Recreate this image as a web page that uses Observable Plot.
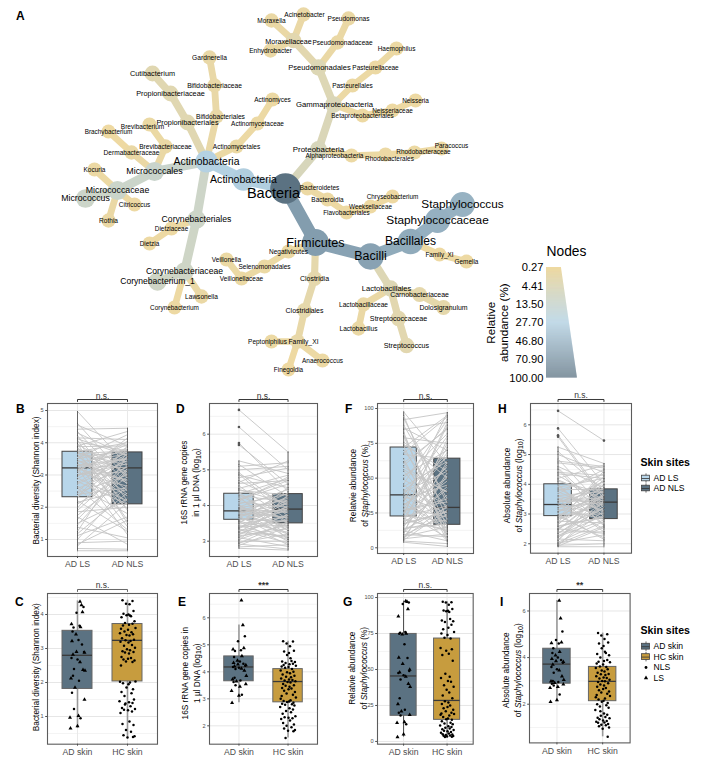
<!DOCTYPE html>
<html><head><meta charset="utf-8">
<script src="https://cdn.jsdelivr.net/npm/d3@7"></script>
<script src="https://cdn.jsdelivr.net/npm/@observablehq/plot@0.6"></script>
<style>
html,body{margin:0;padding:0;background:#fff}
#page{position:relative;width:712px;height:770px;overflow:hidden;font-family:"Liberation Sans",Arial,sans-serif}
#page svg{position:absolute;overflow:visible;background:transparent}
.letter{position:absolute;font:bold 12px "Liberation Sans",Arial,sans-serif;color:#000;line-height:12px}
</style></head><body><div id="page"></div>
<script>
// ---------- Panel A: taxonomy tree [taxon, parent, relative abundance %]
const rootTaxa = [["Bacteria",null,100]];
const actinoTaxa = [
 ["Actinobacteria|p","Bacteria",30],["Actinobacteria|c","Actinobacteria|p",28],
 ["Propionibacteriales","Actinobacteria|c",3],["Propionibacteriaceae","Propionibacteriales",3],["Cutibacterium","Propionibacteriaceae",3],
 ["Bifidobacteriales","Actinobacteria|c",1],["Bifidobacteriaceae","Bifidobacteriales",1],["Gardnerella","Bifidobacteriaceae",1],
 ["Actinomycetales","Actinobacteria|c",.7],["Actinomycetaceae","Actinomycetales",.6],["Actinomyces","Actinomycetaceae",.6],
 ["Micrococcales","Actinobacteria|c",13],["Brevibacteriaceae","Micrococcales",.8],["Brevibacterium","Brevibacteriaceae",.7],
 ["Dermabacteraceae","Micrococcales",.8],["Brachybacterium","Dermabacteraceae",.4],
 ["Micrococcaceae","Micrococcales",12],["Micrococcus","Micrococcaceae",11.5],["Kocuria","Micrococcaceae",.6],["Citricoccus","Micrococcaceae",.5],["Rothia","Micrococcaceae",.8],
 ["Corynebacteriales","Actinobacteria|c",11],["Dietziaceae","Corynebacteriales",.5],["Dietzia","Dietziaceae",.5],
 ["Corynebacteriaceae","Corynebacteriales",10.5],["Corynebacterium_1","Corynebacteriaceae",10],["Corynebacterium","Corynebacteriaceae",.5],["Lawsonella","Corynebacteriaceae",.8]
];
const proteoTaxa = [
 ["Proteobacteria","Bacteria",6],["Gammaproteobacteria","Proteobacteria",5],["Pseudomonadales","Gammaproteobacteria",4],
 ["Moraxellaceae","Pseudomonadales",2.5],["Moraxella","Moraxellaceae",.8],["Acinetobacter","Moraxellaceae",.9],["Enhydrobacter","Moraxellaceae",.8],
 ["Pseudomonadaceae","Pseudomonadales",.8],["Pseudomonas","Pseudomonadaceae",.8],
 ["Pasteurellales","Gammaproteobacteria",.6],["Pasteurellaceae","Pasteurellales",.6],["Haemophilus","Pasteurellaceae",.6],
 ["Betaproteobacteriales","Gammaproteobacteria",.5],["Neisseriaceae","Betaproteobacteriales",.5],["Neisseria","Neisseriaceae",.5],
 ["Alphaproteobacteria","Proteobacteria",.6],["Rhodobacterales","Alphaproteobacteria",.6],["Rhodobacteraceae","Rhodobacterales",.55],["Paracoccus","Rhodobacteraceae",.5]
];
const bacteroidTaxa = [
 ["Bacteroidetes","Bacteria",.6],["Bacteroidia","Bacteroidetes",.6],["Flavobacteriales","Bacteroidia",.5],["Weeksellaceae","Flavobacteriales",.4],["Chryseobacterium","Weeksellaceae",.4]
];
const firmicuteTaxa = [
 ["Firmicutes","Bacteria",62],["Bacilli","Firmicutes",58],["Bacillales","Bacilli",52],["Staphylococcaceae","Bacillales",48],["Staphylococcus","Staphylococcaceae",47],
 ["Family_XI|b","Bacillales",.4],["Gemella","Family_XI|b",.5],
 ["Lactobacillales","Bacilli",4],["Carnobacteriaceae","Lactobacillales",1.8],["Dolosigranulum","Carnobacteriaceae",1.7],
 ["Lactobacillaceae","Lactobacillales",.8],["Lactobacillus","Lactobacillaceae",.8],["Streptococcaceae","Lactobacillales",2.5],["Streptococcus","Streptococcaceae",2.5],
 ["Negativicutes","Firmicutes",.7],["Selenomonadales","Negativicutes",.7],["Veillonellaceae","Selenomonadales",.7],["Veillonella","Veillonellaceae",.7],
 ["Clostridia","Firmicutes",1.8],["Clostridiales","Clostridia",1.8],["Family_XI|c","Clostridiales",1.2],["Peptoniphilus","Family_XI|c",.6],["Anaerococcus","Family_XI|c",.6],["Finegoldia","Family_XI|c",.4]
];
// tree layout units [taxon, x, y, label x, label y]
const treeLayout = [
 ["Bacteria",285,188,273,193],["Actinobacteria|p",243,179],["Actinobacteria|c",206,161],
 ["Propionibacteriales",187,122],["Propionibacteriaceae",170,93],["Cutibacterium",152,73],
 ["Bifidobacteriales",216,116,220,116],["Bifidobacteriaceae",214,85],["Gardnerella",209,57],
 ["Actinomycetales",236,146],["Actinomycetaceae",257,123],["Actinomyces",272,99],
 ["Micrococcales",154,171],["Brevibacteriaceae",165,146],["Brevibacterium",149,124,142,126],["Dermabacteraceae",131,152],["Brachybacterium",108,131],
 ["Micrococcaceae",117,190],["Micrococcus",85,198],["Kocuria",94,169],["Citricoccus",134,204],["Rothia",108,220],
 ["Corynebacteriales",196,219],["Dietziaceae",171,228],["Dietzia",149,243],["Corynebacteriaceae",184,271],["Corynebacterium_1",157,281],["Corynebacterium",174,307],["Lawsonella",201,296],
 ["Proteobacteria",318,149],["Gammaproteobacteria",333,104,334,104],["Pseudomonadales",318,67,319,67],["Moraxellaceae",293,40,288,41],["Moraxella",271,20],["Acinetobacter",303,14,304,14],["Enhydrobacter",270,50],
 ["Pseudomonadaceae",337,42,342,42],["Pseudomonas",348,18],["Pasteurellales",352,85],["Pasteurellaceae",375,67],["Haemophilus",396,48],
 ["Betaproteobacteriales",362,115],["Neisseriaceae",392,110],["Neisseria",415,100],
 ["Alphaproteobacteria",351,155,334,155],["Rhodobacterales",385,154,389,158],["Rhodobacteraceae",414,152,423,151],["Paracoccus",441,148,451,145],
 ["Bacteroidetes",307,188,319,187],["Bacteroidia",327,199],["Flavobacteriales",346,212],["Weeksellaceae",370,206],["Chryseobacterium",392,196],
 ["Firmicutes",315,242],["Bacilli",370,256],["Bacillales",410,241],["Staphylococcaceae",437,220],["Staphylococcus",462,204],["Family_XI|b",439,254],["Gemella",466,261],
 ["Lactobacillales",390,288,386,288],["Carnobacteriaceae",419,294],["Dolosigranulum",443,307],["Lactobacillaceae",363,304],["Lactobacillus",358,328],["Streptococcaceae",398,318],["Streptococcus",406,345],
 ["Negativicutes",288,251],["Selenomonadales",264,266],["Veillonellaceae",241,278],["Veillonella",226,259],
 ["Clostridia",314,278],["Clostridiales",304,310],["Family_XI|c",297,341,303,341],["Peptoniphilus",271,341,267,341],["Anaerococcus",322,360],["Finegoldia",288,369]
];
const legendTicks = [0.27,4.41,13.5,27.7,46.8,70.9,100];
const abundanceColor = {type:"sqrt",domain:[0.27,27.7,100],range:["#efd9a0","#b5d2e3","#5b7282"]};

// ---------- Paired panels (AD LS, AD NLS)
const pairCats = ["AD LS","AD NLS"], skinCats = ["AD skin","HC skin"];
const shannonLS = [4.97,4.6,4.55,4.42,4.3,4.22,4.15,4.08,4.02,3.96,3.9,3.85,3.8,3.75,3.72,3.68,3.62,3.58,3.52,3.46,3.4,3.36,3.31,3.27,3.24,3.22,3.2,3.14,3.08,3.02,2.95,2.88,2.8,2.72,2.65,2.58,2.48,2.4,2.31,2.2,2.1,1.98,1.86,1.75,1.62,1.5,1.38,1.25,1.12,1.0,.9,.8,.72,.65,4.35,4.12,3.98,3.88,3.7,3.6,3.5,3.38,3.3,3.18,3.1,3.0,2.9,2.76,2.6,2.45,2.33,2.15,1.9,1.7,1.45,1.18,.85,3.66,3.44,2.98];
const shannonNLS = [3.3,2.9,3.9,4.45,3.6,2.2,4.1,1.9,3.75,3.0,4.35,2.5,3.4,1.6,4.0,3.3,2.1,3.7,4.25,2.8,3.65,1.4,3.22,3.95,2.35,3.5,1.15,3.85,2.65,3.1,4.15,3.72,2.09,3.45,1.8,3.25,3.8,2.6,3.55,1.25,3.05,3.68,2.0,2.95,3.2,2.25,1.05,3.6,1.7,2.7,.95,2.15,.7,.65,2.7,3.6,1.5,3.9,3.1,2.4,3.8,1.95,3.5,2.85,4.05,3.35,2.2,3.65,1.3,3.0,3.9,2.55,3.3,.85,3.15,2.45,1.6,3.75,2.75,3.55];
const rrnaLS = [6.68,6.2,5.75,5.7,5.25,5.1,5.0,4.92,4.85,4.78,4.7,4.62,4.55,4.48,4.42,4.36,4.33,4.28,4.22,4.16,4.1,4.05,4.0,3.96,3.92,3.88,3.85,3.82,3.79,3.76,3.73,3.7,3.66,3.62,3.6,3.56,3.52,3.48,3.44,3.4,3.36,3.32,3.28,3.24,3.2,3.15,3.1,3.05,3.0,2.96,2.92,2.88,2.84,2.8,5.15,4.88,4.65,4.45,4.3,4.18,4.02,3.94,3.84,3.74,3.68,3.58,3.5,3.42,3.34,3.26,3.18,3.12,3.02,2.94,4.25,4.12,3.9,3.72,3.55,3.38];
const rrnaNLS = [5.5,5.0,4.4,4.6,4.9,5.2,5.1,3.9,4.5,5.05,4.0,4.7,3.6,4.85,4.3,3.5,4.75,4.1,3.3,4.6,3.95,4.32,3.2,4.45,3.8,3.1,4.2,3.65,4.05,3.4,3.9,3.0,4.25,3.55,3.85,3.25,4.15,3.7,3.05,3.45,3.9,2.95,3.6,3.15,3.75,3.35,2.85,3.5,3.0,3.2,2.78,3.4,2.9,2.75,4.25,3.7,5.25,4.05,3.55,4.7,3.3,4.15,3.85,4.35,3.2,3.95,4.5,3.6,3.1,4.0,3.75,3.45,4.3,3.55,3.05,4.8,3.65,3.9,2.9,4.1];
const relLS = [97.5,95,92,88,85,82,79,76,73,72,70,67,64,61,58,55,52,49,46,44,42,40,39,38,37,35,33,32,30,29,28,27,26,25,24,23,22.5,21,20,18,17,15,14,13,12,11,10,9,8,7,6.5,5.5,4.8,4,93,86,80,74,68,62,56,50,45,41,36,31,27,24,21,19,16,13.5,11.5,9.5,7.5,6,83,59,34,17.5];
const relNLS = [60,20,97,35,90,8,75,50,12,95,28,64,5,85,40,18,70,30,92,62,16,55,10,80,25,45,97,14,58,22,66,33,7,48,88,19,30,72,13,42,26,60,17,29,5,38,78,24,15,52,10,27,3,1,32,70,15,55,94,10,40,82,23,65,5,50,35,90,12,75,44,20,62,8,30,54,6,86,68,26];
const absLS = [6.47,5.88,5.65,5.6,5.25,5.0,4.85,4.72,4.6,4.5,4.4,4.3,4.2,4.1,4.0,3.9,3.82,3.75,3.68,3.6,3.54,3.48,3.42,3.37,3.32,3.28,3.22,3.16,3.1,3.05,3.0,2.95,2.93,2.88,2.82,2.76,2.7,2.64,2.58,2.52,2.46,2.4,2.34,2.28,2.22,2.16,2.1,2.05,2.02,1.98,1.95,1.93,1.92,1.9,5.1,4.78,4.55,4.35,4.15,3.95,3.78,3.62,3.5,3.4,3.3,3.2,3.08,2.98,2.85,2.72,2.6,2.48,2.36,2.24,2.12,2.0,3.86,3.44,2.9,2.5];
const absNLS = [5.47,4.0,3.6,3.5,4.7,4.4,3.2,4.55,3.9,2.9,4.3,3.4,4.65,3.7,2.6,4.2,3.83,3.1,4.5,3.3,2.85,3.95,3.45,4.1,2.5,3.75,3.4,2.83,3.6,4.25,3.0,3.55,2.2,3.8,3.35,2.7,3.5,4.0,2.9,3.2,3.65,2.4,3.4,2.95,3.3,2.1,3.7,2.75,2.3,3.1,2.0,3.42,2.55,1.9,3.8,4.6,3.1,4.2,3.5,2.65,4.35,3.75,2.4,3.85,3.0,4.1,3.6,2.15,3.4,4.45,2.9,3.7,3.2,2.8,3.9,2.6,3.05,3.55,4.15,2.35];
const rrnaOutliers = [[0,6.68],[0,6.2],[0,5.75],[0,5.7]];
const absOutliers = [[0,6.47],[0,5.88],[0,5.65],[0,5.6],[1,5.47]];

// ---------- Unpaired panels (AD skin, HC skin)
const shannonAD = [4.38,4.28,4.22,4.05,4.07,3.72,3.67,3.62,3.63,3.5,3.42,3.25,3.22,3.12,2.9,2.88,2.9,2.82,2.72,2.68,2.6,2.4,2.37,2.35,2.2,2.12,2.05,1.85,1.7,1.5,1.22,1.02,.97,.95,.72,.65];
const shannonHC = [4.42,4.4,4.32,4.3,4.1,4.02,4.0,3.98,3.97,3.95,3.92,3.8,3.75,3.73,3.7,3.68,3.6,3.58,3.55,3.5,3.48,3.45,3.42,3.4,3.38,3.3,3.26,3.24,3.22,3.2,3.18,3.1,3.08,3.02,2.98,2.95,2.92,2.9,2.88,2.85,2.75,2.72,2.7,2.68,2.65,2.62,2.6,2.5,2.03,2.02,2.0,1.98,1.95,1.85,1.8,1.72,1.68,1.6,1.5,1.45,1.42,1.4,1.38,1.3,1.25,1.22,1.2,1.18,1.15,1.1,.85,.78,.75,.6,.55,.45,.42,.38,.4,1.35];
const rrnaAD = [6.65,5.73,5.32,5.13,4.88,4.83,4.8,4.77,4.58,4.55,4.42,4.38,4.33,4.3,4.28,4.25,4.22,4.2,4.18,4.15,4.12,4.1,4.05,3.85,3.78,3.72,3.68,3.65,3.62,3.55,3.5,3.45,3.3,3.15,3.12,2.85];
const rrnaHC = [5.13,5.12,5.05,4.95,4.78,4.75,4.7,4.62,4.5,4.4,4.38,4.36,4.33,4.3,4.28,4.25,4.22,4.2,4.18,4.15,4.1,4.05,4.0,3.98,3.95,3.9,3.85,3.82,3.8,3.75,3.72,3.7,3.68,3.65,3.62,3.6,3.55,3.5,3.48,3.45,3.4,3.38,3.35,3.3,3.25,3.2,3.15,3.1,3.05,3.0,2.95,2.92,2.9,2.88,2.85,2.82,2.8,2.78,2.75,2.7,2.65,2.6,2.55,2.5,2.45,2.35,2.32,2.3,2.28,2.25,2.2,2.1,2.05,2.0,1.95,1.9,1.85,1.82,1.8,1.55];
const relAD = [97.5,97,96.5,95.5,92,87,76,75.5,75,74.8,74.5,67.5,58.2,58,54,50,49,48,47.5,46,45,43,40,38,30,26,22,21,20,18.5,18,13.5,13,12,5,3];
const relHC = [97,96.8,96.5,95,92,91,90.8,90.5,90,85,84,83.5,83,81,79,78,76,75,74,72,71.5,65,64,63,61,60,56,47,45,44,42,41.5,39,38,36,34,32,30,28,27,26,25,24,23,22,21,20,19.5,19,18.5,18,17,16,15.5,15,14,13,12.5,12,11,10.5,10,9.5,9,8.5,8,7.5,7,6.5,6,5.5,5,4.8,4.5,4.2,4,3.8,3.5,3.2,3];
const absAD = [6.45,5.68,5.12,4.75,4.65,4.62,4.6,4.4,4.25,4.2,4.1,4.0,3.95,3.9,3.85,3.82,3.78,3.7,3.6,3.5,3.45,3.35,3.2,3.05,3.0,2.98,2.95,2.92,2.88,2.85,2.8,2.75,2.7,2.42,2.18,2.1];
const absHC = [5.05,5.0,4.95,4.8,4.65,4.6,4.5,4.4,4.25,4.2,4.15,4.1,4.0,3.9,3.85,3.82,3.8,3.75,3.7,3.62,3.6,3.55,3.5,3.45,3.4,3.35,3.3,3.28,3.25,3.2,3.15,3.12,3.1,3.05,3.0,2.98,2.95,2.9,2.85,2.8,2.75,2.7,2.65,2.6,2.55,2.5,2.45,2.4,2.35,2.3,2.25,2.2,2.15,2.1,2.05,2.0,1.95,1.9,1.85,1.75,1.6,1.55,1.5,1.45,1.42,1.4,1.35,1.3,1.28,1.25,1.22,1.2,1.15,1.12,1.1,1.05,1.0,.95,.6,1.7];
const jitterAD = [.05,.08,.12,-.02,.1,-.12,.04,-.08,.06,-.1,-.03,.02,-.11,.09,-.02,.14,.13,-.09,-.12,0,.05,-.07,.11,.15,-.09,-.13,.03,-.05,-.11,.14,-.07,.02,-.15,.06,0,-.14];
const jitterHC = [-.1,.1,-.03,.04,.12,-.08,.02,-.02,.05,.07,-.12,.14,-.05,.1,.03,-.09,.16,-.13,.01,-.06,.08,-.15,.11,-.02,.04,-.11,.13,-.04,.06,-.14,.02,.09,-.07,.15,-.01,.05,-.1,.12,-.05,.03,-.12,.07,.01,-.08,.14,-.03,.1,-.13,.16,-.15,.05,-.09,.02,-.02,.11,-.12,.08,-.06,.13,-.16,.03,.1,-.04,.06,-.11,.15,-.07,.01,.09,-.14,.04,-.1,.12,-.03,.07,-.08,.14,.0,.11,-.05];
const adSites = ["L","L","N","N","L","L","N","N","L","N","L","N","L","N","L","L","N","L","N","N","L","N","L","L","N","L","N","L","N","L","N","L","L","N","L","L"];

// box statistics [whisker low, q1, median, q3, whisker high]
const boxB = [[.65,2.31,3.22,3.72,4.97],[.65,2.09,3.22,3.7,4.45]];
const boxD = [[2.8,3.6,3.85,4.33,5.25],[2.75,3.5,3.9,4.32,5.5]];
const boxF = [[4,22.5,38,72,97.5],[1,16.5,29,64,97]];
const boxH = [[1.9,2.93,3.32,4.0,5.25],[1.9,2.83,3.4,3.83,4.7]];
const boxC = [[.65,1.81,2.8,3.52,4.4],[.38,2.03,3.24,3.72,4.42]];
const boxE = [[2.85,3.65,4.18,4.57,5.73],[1.55,2.87,3.64,4.1,5.13]];
const boxG = [[3,17.8,45.5,74.7,97.5],[3,15,28.5,71.5,97]];
const boxI = [[2.1,2.88,3.72,4.38,6.45],[.6,2.13,2.98,3.6,5.05]];

const lsBlue="#b8d6ea", slate="#5b7282", gold="#c79c3e";
const FONT='"Liberation Sans",Arial,sans-serif';
const page=document.getElementById("page");
function place(el,left,top){el.style.position="absolute";el.style.left=left+"px";el.style.top=top+"px";page.appendChild(el);return el;}

// ---------- Tree
const taxa=[...rootTaxa,...actinoTaxa,...proteoTaxa,...bacteroidTaxa,...firmicuteTaxa].map(([id,parent,ab])=>({id,parent,ab,name:id.split("|")[0]}));
const layoutOf=new Map(treeLayout.map(r=>[r[0],r]));
taxa.forEach(t=>{const r=layoutOf.get(t.id);t.x=r[1];t.y=r[2];t.lx=r[3]??r[1];t.ly=r[4]??r[2];});
const byId=new Map(taxa.map(t=>[t.id,t]));
const branches=taxa.filter(t=>t.parent).map(t=>({ab:t.ab,x1:byId.get(t.parent).x,y1:byId.get(t.parent).y,x2:t.x,y2:t.y}));
place(Plot.plot({width:712,height:385,margin:0,
  x:{domain:[0,712],range:[0,712],axis:null},y:{domain:[0,385],range:[0,385],axis:null},
  color:abundanceColor,r:{type:"sqrt",domain:[0.27,100],range:[6.8,15.3]},
  style:{fontFamily:FONT,background:"transparent"},
  marks:[
    Plot.link(branches.slice().sort((a,b)=>a.ab-b.ab),{x1:"x1",y1:"y1",x2:"x2",y2:"y2",stroke:"ab",strokeWidth:d=>6+.85*Math.sqrt(d.ab),strokeLinecap:"round"}),
    Plot.dot(taxa,{x:"x",y:"y",r:"ab",fill:"ab",sort:{channel:"r"}}),
    Plot.text(taxa,{x:"lx",y:"ly",text:"name",fontSize:d=>5.8+.87*Math.sqrt(d.ab),fill:"#000"})
  ]}),0,0);

// ---------- Abundance legend wedge
const rampSteps=d3.range(0,111).map(i=>i/111);
const r0=Math.sqrt(.27), r1=10;
const ramp=rampSteps.map(t=>{const a=r0+t*(r1-r0), b=r0+(t+1/111)*(r1-r0);return{v1:a*a,v2:b*b,w:a,mid:(a*a+b*b)/2};});
place(Plot.plot({width:120,height:140.5,marginLeft:66,marginRight:23,marginTop:30,marginBottom:0,
  x:{domain:[-8.36,10],axis:null},y:{type:"sqrt",domain:[.27,100],reverse:true,axis:null},color:abundanceColor,
  style:{fontFamily:FONT,background:"transparent"},
  marks:[
    Plot.rect(ramp,{x1:-8.36,x2:"w",y1:"v1",y2:"v2",fill:"mid"}),
    Plot.axisY({ticks:legendTicks,tickSize:0,tickPadding:3,fontSize:11.2,color:"#000",tickFormat:d=>d.toFixed(2),anchor:"left"}),
    Plot.text(["Nodes"],{frameAnchor:"top-left",dy:-15.5,fontSize:13.8,textAnchor:"start",fill:"#000",lineAnchor:"middle"}),
    Plot.text(["Relative\nabundance (%)"],{frameAnchor:"left",textAnchor:"middle",dx:-49.5,dy:0,rotate:-90,fontSize:11.6,lineHeight:1.12,fill:"#000"})
  ]}),480,237.3);

// ---------- Box panels
function richify(svg){
  const walker=document.createTreeWalker(svg,NodeFilter.SHOW_TEXT);const nodes=[];
  while(walker.nextNode()) nodes.push(walker.currentNode);
  const NS="http://www.w3.org/2000/svg";
  nodes.filter(n=>/Staphylococcus|log10/.test(n.nodeValue)).forEach(n=>{
    const parent=n.parentNode;const parts=n.nodeValue.split(/(Staphylococcus|log10)/);
    let afterSub=false;
    parts.forEach(p=>{
      if(p==="Staphylococcus"){const s=document.createElementNS(NS,"tspan");s.setAttribute("font-style","italic");s.textContent=p;parent.insertBefore(s,n);}
      else if(p==="log10"){
        parent.insertBefore(document.createTextNode("log"),n);
        const s=document.createElementNS(NS,"tspan");s.setAttribute("font-size","85%");s.setAttribute("dy","0.25em");s.textContent="10";parent.insertBefore(s,n);
        afterSub=true;
      } else if(p){
        if(afterSub){const e=document.createElementNS(NS,"tspan");e.setAttribute("dy","-0.21em");e.textContent=p;parent.insertBefore(e,n);afterSub=false;}
        else parent.insertBefore(document.createTextNode(p),n);
      }
    });
    parent.removeChild(n);
  });
}
function panel(c){
  const mL=50,mT=22,mB=24,mR=6, W=c.x1-c.x0, H=c.y1-c.y0;
  const ppu=H/(c.yDomain[1]-c.yDomain[0]);
  const yTop=c.yDomain[1], yb=yTop+4/ppu, ytick=yTop+2/ppu;
  const boxes=c.box.map((b,i)=>({i,lo:b[0],q1:b[1],med:b[2],q3:b[3],hi:b[4]}));
  const marks=[
    Plot.ruleY(c.minor,{stroke:"#efefef",strokeWidth:.7}),
    Plot.ruleY(c.ticks,{stroke:"#e6e6e6",strokeWidth:1}),
    Plot.ruleX([0,1],{stroke:"#e9e9e9",strokeWidth:1}),
    Plot.ruleX(boxes,{x:"i",y1:"lo",y2:"hi",stroke:c.whisker||"#666",strokeWidth:c.whiskerW||1}),
    Plot.rect(boxes,{x1:d=>d.i-.3,x2:d=>d.i+.3,y1:"q1",y2:"q3",fill:(d=>c.colors[d.i]),stroke:c.boxStroke||"#444",strokeWidth:1}),
    Plot.ruleY(boxes,{y:"med",x1:d=>d.i-.3,x2:d=>d.i+.3,stroke:"#3a3a3a",strokeWidth:1.3})
  ];
  if(c.left){
    const pairs=c.left.map((v,i)=>({a:v,b:c.right[i]}));
    marks.push(Plot.link(pairs,{x1:()=>0,x2:()=>1,y1:"a",y2:"b",stroke:"#c6c6c6",strokeWidth:1,strokeOpacity:.92}));
    marks.push(Plot.dot(pairs,{x:()=>0,y:"a",r:.55,fill:"#555"}));
    marks.push(Plot.dot(pairs,{x:()=>1,y:"b",r:.55,fill:"#555"}));
    if(c.outliers) marks.push(Plot.dot(c.outliers,{x:"0",y:"1",r:1.3,fill:"#555"}));
  }
  if(c.ad){
    const pts=[...c.ad.map((v,i)=>({x:jitterAD[i%jitterAD.length],y:v,s:adSites[i%adSites.length]})),
               ...c.hc.map((v,i)=>({x:1+jitterHC[i%jitterHC.length],y:v,s:"N"}))];
    marks.push(Plot.dot(pts.filter(d=>d.s==="N"),{x:"x",y:"y",r:1.25,fill:"#000"}));
    marks.push(Plot.dot(pts.filter(d=>d.s==="L"),{x:"x",y:"y",r:1.5,symbol:"triangle",fill:"#000"}));
  }
  marks.push(
    Plot.frame({stroke:"#5c5c5c",strokeWidth:1.1}),
    Plot.axisY({ticks:c.ticks,tickSize:1.8,tickPadding:2,fontSize:5.6,color:"#4d4d4d",tickFormat:d=>String(d),anchor:"left",label:null}),
    Plot.axisX({ticks:[0,1],tickSize:2,tickPadding:2.5,fontSize:8.7,color:"#4d4d4d",tickFormat:d=>c.cats[d],anchor:"bottom",label:null}),
    Plot.line([[0,ytick],[0,yb],[1,yb],[1,ytick]],{x:"0",y:"1",stroke:c.sigDark===false?"#555":"#222",strokeWidth:.9}),
    Plot.text([c.sig],{x:()=>.5,y:()=>yb,dy:-1,lineAnchor:"bottom",fontSize:c.sig.includes("*")?9:8.5,fontWeight:c.sig.includes("*")?"bold":"normal",fill:"#333"}),
    Plot.text([c.title],{frameAnchor:"left",textAnchor:"middle",dx:c.titleX-c.x0,dy:c.titleY-(c.y0+c.y1)/2,rotate:-90,fontSize:8.3,lineHeight:1.4,fill:"#000"})
  );
  const svg=Plot.plot({width:W+mL+mR,height:H+mT+mB,marginLeft:mL,marginRight:mR,marginTop:mT,marginBottom:mB,
    x:{domain:[-.6,1.6],axis:null},y:{domain:c.yDomain,axis:null},
    style:{fontFamily:FONT,background:"transparent"},marks});
  richify(svg);
  place(svg,c.x0-mL,c.y0-mT);
}
const titleShannon="Bacterial diversity (Shannon index)";
const titleRel="Relatvie abundance\nof Staphylococcus (%)";
const titleAbs="Absolute abundance\nof Staphylococcus (log10)";
const pairColors=[lsBlue,slate], skinColors=[slate,gold];
panel({x0:47,x1:157,y0:403,y1:556,yDomain:[.472,5.217],ticks:[1,2,3,4,5],minor:[1.5,2.5,3.5,4.5],cats:pairCats,box:boxB,colors:pairColors,left:shannonLS,right:shannonNLS,sig:"n.s.",title:titleShannon,titleX:35,titleY:480});
panel({x0:209,x1:317,y0:403,y1:556,yDomain:[2.571,6.86],ticks:[3,4,5,6],minor:[3.5,4.5,5.5,6.5],cats:pairCats,box:boxD,colors:pairColors,left:rrnaLS,right:rrnaNLS,outliers:rrnaOutliers,sig:"n.s.",title:"16S rRNA gene copies\nin 1 \u00b5l DNA (log10)",titleX:189,titleY:482});
panel({x0:377,x1:473,y0:403,y1:553,yDomain:[-4.1,103.6],ticks:[0,25,50,75,100],minor:[12.5,37.5,62.5,87.5],cats:pairCats,box:boxF,colors:pairColors,left:relLS,right:relNLS,sig:"n.s.",title:titleRel,titleX:357.5,titleY:485});
panel({x0:530,x1:631,y0:403,y1:552.7,yDomain:[1.683,6.717],ticks:[2,3,4,5,6],minor:[2.5,3.5,4.5,5.5,6.5],cats:pairCats,box:boxH,colors:pairColors,left:absLS,right:absNLS,outliers:absOutliers,sig:"n.s.",title:titleAbs,titleX:511.5,titleY:485});
panel({x0:47,x1:157,y0:593.3,y1:744,yDomain:[.185,4.618],ticks:[1,2,3,4],minor:[.5,1.5,2.5,3.5,4.5],cats:skinCats,box:boxC,colors:skinColors,ad:shannonAD,hc:shannonHC,sig:"n.s.",sigDark:false,title:titleShannon,titleX:35,titleY:667,whisker:"#999",whiskerW:1.6,boxStroke:"#666"});
panel({x0:209,x1:317,y0:593.3,y1:744,yDomain:[1.32,6.9],ticks:[2,3,4,5,6],minor:[2.5,3.5,4.5,5.5,6.5],cats:skinCats,box:boxE,colors:skinColors,ad:rrnaAD,hc:rrnaHC,sig:"***",title:"16S rRNA gene copies in\n1 \u00b5l DNA (log10)",titleX:189.5,titleY:673,whisker:"#999",whiskerW:1.6,boxStroke:"#666"});
panel({x0:377,x1:472.7,y0:593.3,y1:744,yDomain:[-1.9,102.8],ticks:[0,25,50,75,100],minor:[12.5,37.5,62.5,87.5],cats:skinCats,box:boxG,colors:skinColors,ad:relAD,hc:relHC,sig:"n.s.",title:titleRel,titleX:356.5,titleY:668,whisker:"#444",whiskerW:1,boxStroke:"#666"});
panel({x0:528.7,x1:629.3,y0:593.3,y1:742.7,yDomain:[.34,6.75],ticks:[2,4,6],minor:[1,3,5],cats:skinCats,box:boxI,colors:skinColors,ad:absAD,hc:absHC,sig:"**",title:titleAbs,titleX:510.5,titleY:670,whisker:"#999",whiskerW:1.6,boxStroke:"#666"});

// ---------- Skin-site legends
function skinLegend(left,titleTop,title,items,rowH){
  const n=items.length, mTop=16;
  const rows=items.map((d,i)=>({...d,i}));
  const keyBoxes=rows.filter(d=>d.fill);
  place(Plot.plot({width:72,height:mTop+n*rowH,margin:0,marginTop:mTop,
    x:{domain:[0,72],range:[0,72],axis:null},y:{domain:[n-.5,-.5],axis:null},
    style:{fontFamily:FONT,background:"transparent"},
    marks:[
      Plot.ruleX(keyBoxes,{x:()=>5.5,y1:d=>d.i-.46,y2:d=>d.i+.46,stroke:"#444",strokeWidth:.8}),
      Plot.rect(keyBoxes,{x1:()=>1.5,x2:()=>9.5,y1:d=>d.i-.28,y2:d=>d.i+.28,fill:"fill",stroke:"#444",strokeWidth:.8}),
      Plot.ruleY(keyBoxes,{y:"i",x1:()=>1.5,x2:()=>9.5,stroke:"#333",strokeWidth:.8}),
      Plot.dot(rows.filter(d=>d.symbol==="circle"),{x:()=>5.5,y:"i",r:1.4,fill:"#000"}),
      Plot.dot(rows.filter(d=>d.symbol==="triangle"),{x:()=>5.5,y:"i",r:1.6,symbol:"triangle",fill:"#000"}),
      Plot.text(rows,{x:()=>13,y:"i",text:"label",textAnchor:"start",fontSize:8.6,fill:"#000"}),
      Plot.text([title],{frameAnchor:"top-left",dy:-mTop+1,textAnchor:"start",lineAnchor:"top",fontSize:10.6,fontWeight:"bold",fill:"#000"})
    ]}),left,titleTop);
}
skinLegend(640,457,"Skin sites",[{label:"AD LS",fill:lsBlue},{label:"AD NLS",fill:slate}],10);
skinLegend(640,624.5,"Skin sites",[{label:"AD skin",fill:slate},{label:"HC skin",fill:gold},{label:"NLS",symbol:"circle"},{label:"LS",symbol:"triangle"}],10.4);

// ---------- Panel letters
const panelLetters=["A","B","C","D","E","F","G","H","I"];
const letterSpots=[[16,10],[16,403],[15,596],[176,403],[178,596],[345,403],[343,596],[498,403],[500,596]];
panelLetters.forEach((l,i)=>{const d=document.createElement("div");d.className="letter";d.textContent=l;place(d,letterSpots[i][0],letterSpots[i][1]);});
</script></body></html>
